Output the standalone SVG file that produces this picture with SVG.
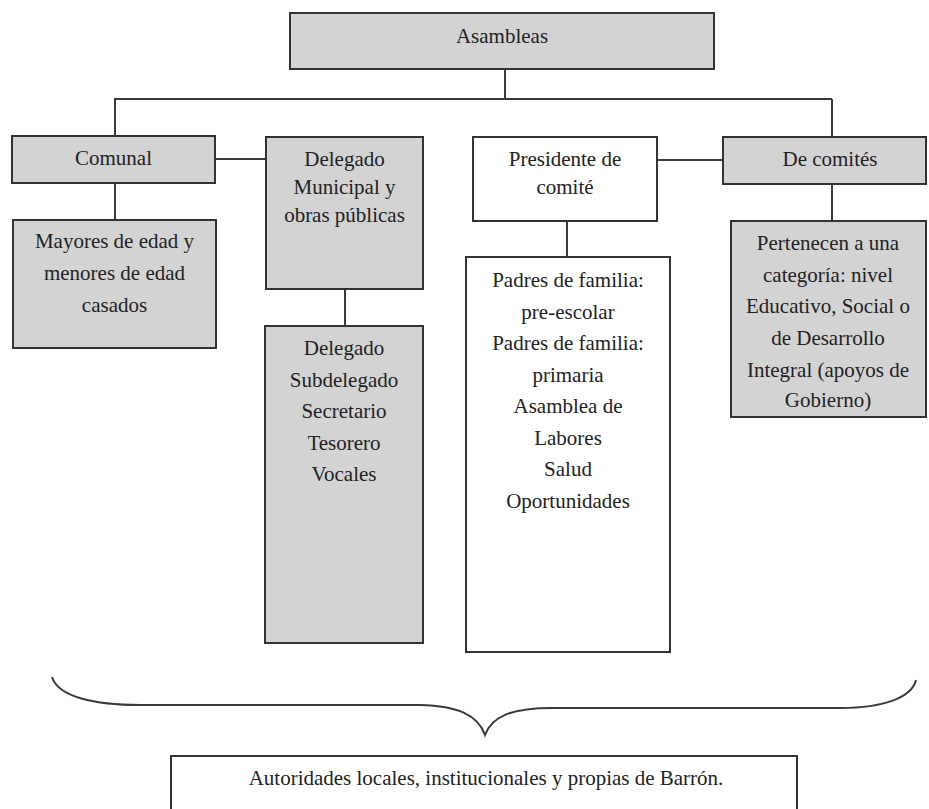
<svg xmlns="http://www.w3.org/2000/svg" width="929" height="809" viewBox="0 0 929 809">
<style>
.box{stroke:#333;stroke-width:2;}
.g{fill:#d3d3d3;}
.w{fill:#ffffff;}
.t{font-family:"Liberation Serif","Times New Roman",serif;font-size:21px;fill:#222;text-anchor:middle;}
.c{stroke:#3a3a3a;stroke-width:2;fill:none;}
</style>
<rect width="929" height="809" fill="#ffffff"/>
<g id="connectors">
<line class="c" x1="505" y1="69" x2="505" y2="99"/>
<line class="c" x1="114" y1="99" x2="832" y2="99"/>
<line class="c" x1="115" y1="99" x2="115" y2="136"/>
<line class="c" x1="832" y1="99" x2="832" y2="137"/>
<line class="c" x1="215" y1="159" x2="266" y2="159"/>
<line class="c" x1="657" y1="160" x2="723" y2="160"/>
<line class="c" x1="115" y1="183" x2="115" y2="220"/>
<line class="c" x1="345" y1="289" x2="345" y2="326"/>
<line class="c" x1="567" y1="221" x2="567" y2="257"/>
<line class="c" x1="832" y1="184" x2="832" y2="221"/>
<path class="c" d="M52,677 C58,697 95,705 140,705 L420,705 C458,706 478,715 485,735 C492,716 512,708 552,708 L840,708 C885,708 912,697 916,680"/>
</g>
<g id="asambleas">
<rect class="box g" x="290" y="13" width="424" height="56"/>
<text class="t" x="502" y="43">Asambleas</text>
</g>
<g id="comunal">
<rect class="box g" x="12" y="136" width="203" height="47"/>
<text class="t" x="113.5" y="165">Comunal</text>
</g>
<g id="delegado-municipal">
<rect class="box g" x="266" y="137" width="157" height="152"/>
<text class="t" x="344.5" y="166">Delegado</text>
<text class="t" x="344.5" y="194">Municipal y</text>
<text class="t" x="344.5" y="222">obras públicas</text>
</g>
<g id="presidente">
<rect class="box w" x="473" y="137" width="184" height="84"/>
<text class="t" x="565" y="166">Presidente de</text>
<text class="t" x="565" y="194">comité</text>
</g>
<g id="de-comites">
<rect class="box g" x="723" y="137" width="203" height="47"/>
<text class="t" x="830" y="166">De comités</text>
</g>
<g id="mayores">
<rect class="box g" x="13" y="220" width="203" height="128"/>
<text class="t" x="114.5" y="248">Mayores de edad y</text>
<text class="t" x="114.5" y="280">menores de edad</text>
<text class="t" x="114.5" y="312">casados</text>
</g>
<g id="delegado-cargos">
<rect class="box g" x="265" y="326" width="158" height="317"/>
<text class="t" x="344" y="355">Delegado</text>
<text class="t" x="344" y="386.5">Subdelegado</text>
<text class="t" x="344" y="418">Secretario</text>
<text class="t" x="344" y="449.5">Tesorero</text>
<text class="t" x="344" y="481">Vocales</text>
</g>
<g id="padres">
<rect class="box w" x="466" y="257" width="204" height="395"/>
<text class="t" x="568" y="287">Padres de familia:</text>
<text class="t" x="568" y="318.5">pre-escolar</text>
<text class="t" x="568" y="350">Padres de familia:</text>
<text class="t" x="568" y="381.5">primaria</text>
<text class="t" x="568" y="413">Asamblea de</text>
<text class="t" x="568" y="444.5">Labores</text>
<text class="t" x="568" y="476">Salud</text>
<text class="t" x="568" y="507.5">Oportunidades</text>
</g>
<g id="pertenecen">
<rect class="box g" x="731" y="221" width="195" height="196"/>
<text class="t" x="828" y="250">Pertenecen a una</text>
<text class="t" x="828" y="282">categoría: nivel</text>
<text class="t" x="828" y="313">Educativo, Social o</text>
<text class="t" x="828" y="345">de Desarrollo</text>
<text class="t" x="828" y="377">Integral (apoyos de</text>
<text class="t" x="828" y="407">Gobierno)</text>
</g>
<g id="autoridades">
<rect class="box w" x="171" y="756" width="626" height="70"/>
<text class="t" x="486" y="785" font-size="20">Autoridades locales, institucionales y propias de Barrón.</text>
</g>
</svg>
